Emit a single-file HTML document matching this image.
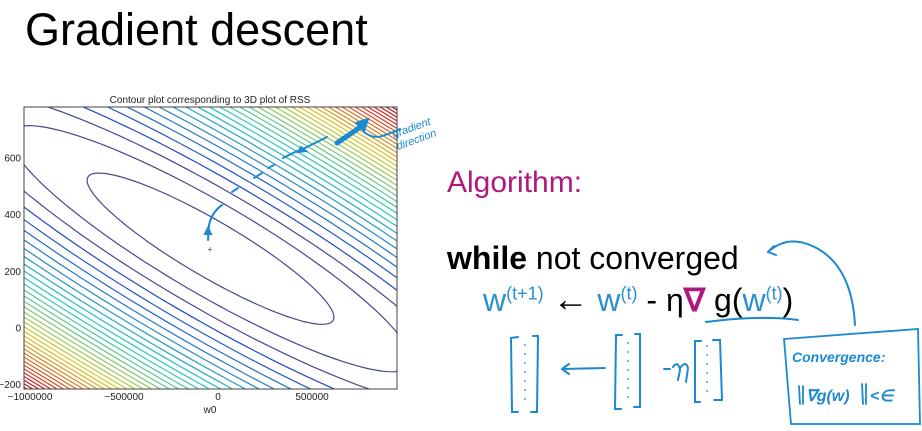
<!DOCTYPE html>
<html><head><meta charset="utf-8"><style>
html,body{margin:0;padding:0;background:#fff;width:922px;height:431px;overflow:hidden;font-family:"Liberation Sans",sans-serif}
#wrap{position:relative;width:922px;height:431px;overflow:hidden}
.t{position:absolute;white-space:nowrap;line-height:1}
sup{line-height:0}
</style></head><body>
<div id="wrap">
<div class="t" style="left:25px;top:7px;font-size:45px;color:#000">Gradient descent</div>
<div class="t" style="left:447px;top:168px;font-size:30px;color:#b0177f">Algorithm:</div>
<div class="t" style="left:447px;top:242px;font-size:32px;color:#000"><b>while</b> not converged</div>
<div class="t" style="left:483px;top:284px;font-size:32px;color:#000"><span style="color:#2b90d0">w<sup style="font-size:18px">(t+1)</sup></span> <b style="font-size:36px;line-height:0">&#8592;</b> <span style="color:#2b90d0">w<sup style="font-size:18px">(t)</sup></span> - η<b style="color:#b0177f">∇</b> g(<span style="color:#2b90d0">w<sup style="font-size:18px">(t)</sup></span>)</div>

<svg width="922" height="431" style="position:absolute;left:0;top:0">
<defs><clipPath id="pc"><rect x="24" y="107" width="373" height="282"/></clipPath></defs>
<g id="contours" clip-path="url(#pc)"></g>
<rect x="24" y="107" width="373" height="282" fill="none" stroke="#444" stroke-width="1"/>
<g id="axes" font-size="10" fill="#222" font-family="Liberation Sans,sans-serif"></g>
<text x="210" y="103" text-anchor="middle" font-size="10" fill="#222">Contour plot corresponding to 3D plot of RSS</text>
<text x="210" y="413" text-anchor="middle" font-size="10" fill="#222">w0</text>
<text x="210" y="252" text-anchor="middle" font-size="8" fill="#333">+</text>
<g fill="none" stroke="#1b8ad0" stroke-linecap="round" stroke-width="2">
<path d="M208 240 L209 225 Q212 212 222 205" />
<path d="M208 228 l-3 6 l6 0 z" fill="#1b8ad0"/>
<path d="M232 192 L238 188 M254 178 L262 173 M268 168 L274 165 M283 158 L297 151 M303 149 L327 137"/>
<path d="M298 152 l8 -1 l-5 -4 z" fill="#1b8ad0"/>
<path d="M337 143 L362 126" stroke-width="5"/>
<path d="M356 123 L368 119 L364 131 Z" fill="#1b8ad0"/>
<path d="M364 132 Q374 140 385 135 Q394 132 400 129"/>
<path d="M768 252 Q790 232 820 250 Q852 270 855 325"/>
<path d="M768 252 l6 -6 M768 252 l8 3"/>
<path d="M706 322 Q760 315 798 320"/>
<path d="M518 337 L511 338 L512 412 L518 412 M533 336 L538 336 L537 412 L531 412"/>
<path d="M562 369 L605 368 M562 369 l7 -5 M562 369 l7 5"/>
<path d="M622 335 L616 335 L615 409 L621 409 M635 334 L640 334 L640 407 L634 407"/>
<path d="M664 369 L670 369 M673 367 Q678 360 680 370 L678 380 M680 368 Q686 360 688 368 L686 382"/>
<path d="M701 341 L695 341 L695 402 L700 402 M713 340 L720 340 L722 400 L714 400"/>
<path d="M784 339 L918 329 L920 424 L791 424 Z" stroke-width="1.8"/>
<path d="M799 386 L800 404 M803 386 L803 404 M862 384 L863 404 M866 384 L866 404" stroke-width="1.8"/>
</g>
<g fill="#1b8ad0" font-family="Liberation Sans,sans-serif">
<text x="394" y="138" font-size="11" font-style="italic" transform="rotate(-20 394 138)">gradient</text>
<text x="398" y="150" font-size="11" font-style="italic" transform="rotate(-20 398 150)">direction</text>
<text x="792" y="362" font-size="14" font-weight="bold" font-style="italic">Convergence:</text>
<text x="806" y="401" font-size="16" font-weight="bold" font-style="italic">∇g(w)</text>
<text x="870" y="401" font-size="16" font-weight="bold" font-style="italic">&lt;∈</text>
</g>
<g fill="#1b8ad0" id="dots"></g>
</svg>
</div>
<script>
const xTicks=[-1000000,-500000,0,500000];
const xTickLabels=["\u22121000000","\u2212500000","0","500000"];
const yTicks=[-200,0,200,400,600];
const yTickLabels=["\u2212200","0","200","400","600"];
const centerW0=[-40000];
const centerW1=[280];
const levels=[1,2.65,4.3,5.95,7.6,9.25,10.9,12.55,14.2,15.85,17.5,19.15,20.8,22.45,24.1,25.75,27.4,29.05,30.7,32.35,34,35.65,37.3,38.95,40.6,42.25,43.9,45.55,47.2,48.85,50.5,52.15,53.8,55.45,57.1,58.75,60.4,62.05];
const X0=-1032000,X1=952000,Y0=-215,Y1=780;
function xs(v){return 24+(v-X0)/(X1-X0)*373;}
function ys(v){return 389-(v-Y0)/(Y1-Y0)*282;}
const NS="http://www.w3.org/2000/svg";
function jet(t){
  const c=x=>Math.max(0,Math.min(1,x));
  let r=c(1.5-Math.abs(4*t-3)),g=c(1.5-Math.abs(4*t-2)),b=c(1.5-Math.abs(4*t-1));
  const m=0.25;
  r=r*(1-m)+0.55*m; g=g*(1-m)+0.55*m; b=b*(1-m)+0.6*m;
  return `rgb(${Math.round(r*245)},${Math.round(g*225)},${Math.round(b*215)})`;
}
const cg=document.getElementById('contours');
const cx=xs(centerW0[0]),cy=ys(centerW1[0]);
const ang=30.3*Math.PI/180,ca=Math.cos(ang),sa=Math.sin(ang);
const maxL=levels[levels.length-1];
levels.forEach((L,i)=>{
  const s=Math.sqrt(L);
  const a=142*s,b=28*s;
  let d="";
  for(let k=0;k<=120;k++){
    const t=k/120*2*Math.PI;
    const u=a*Math.cos(t),v=b*Math.sin(t);
    const px=cx+u*ca-v*sa,py=cy+u*sa+v*ca;
    d+=(k?"L":"M")+px.toFixed(1)+" "+py.toFixed(1);
  }
  const p=document.createElementNS(NS,'path');
  p.setAttribute('d',d);p.setAttribute('fill','none');
  p.setAttribute('stroke',i<3?'#45488f':jet(0.1+0.9*(L/maxL)));
  p.setAttribute('stroke-width','1.2');
  
  
  cg.appendChild(p);
});
const ag=document.getElementById('axes');
xTicks.forEach((v,i)=>{
  const t=document.createElementNS(NS,'text');
  t.setAttribute('x',xs(v));t.setAttribute('y',400);t.setAttribute('text-anchor','middle');
  t.textContent=xTickLabels[i];
  
  
  ag.appendChild(t);
});
yTicks.forEach((v,i)=>{
  const t=document.createElementNS(NS,'text');
  t.setAttribute('x',21);t.setAttribute('y',ys(v)+3.5);t.setAttribute('text-anchor','end');
  t.textContent=yTickLabels[i];
  
  
  ag.appendChild(t);
});
const dg=document.getElementById('dots');
[[525,345,405],[628,343,400],[707,346,394]].forEach(([x,y0,y1])=>{
  for(let y=y0;y<=y1;y+=9){
    const c=document.createElementNS(NS,'circle');
    c.setAttribute('cx',x);c.setAttribute('cy',y);c.setAttribute('r',0.9);
    
    
    dg.appendChild(c);
  }
});
</script>
</body></html>
